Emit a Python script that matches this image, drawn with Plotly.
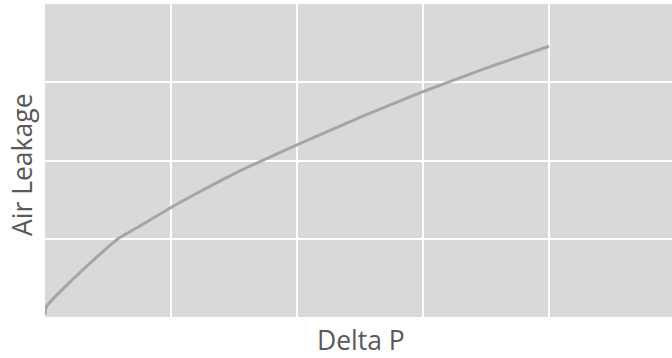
import plotly.graph_objects as go

delta_p = [0, 0.01, 0.2, 0.4, 0.58, 0.75, 1.0, 1.25, 1.5, 2.0, 2.5, 3.0, 3.5, 4.0]
air_leakage = [0.03, 0.13, 0.45, 0.75, 1.0, 1.16, 1.40, 1.62, 1.83, 2.2, 2.55, 2.88, 3.18, 3.46]

x_title = "Delta P"
y_title = "Air Leakage"

fig = go.Figure()
fig.add_trace(go.Scatter(
    x=delta_p, y=air_leakage, mode="lines",
    line=dict(color="#a5a5a5", width=3, shape="spline", smoothing=0.5),
    hoverinfo="skip", showlegend=False,
))

font_family = "Open Sans, Liberation Sans, sans-serif"
title_font = dict(family=font_family, size=26.5, color="#595959")

fig.update_layout(
    width=672, height=358,
    margin=dict(l=45, r=0, t=4, b=41, autoexpand=False),
    paper_bgcolor="white",
    plot_bgcolor="#d9d9d9",
    font=dict(family=font_family, color="#595959"),
    xaxis=dict(
        range=[0, 4.976], dtick=1, tick0=0,
        showgrid=True, gridcolor="white", gridwidth=1.5,
        zeroline=False, showticklabels=False, ticks="",
        showline=False, automargin=False, fixedrange=True,
    ),
    yaxis=dict(
        range=[0, 4], dtick=1, tick0=0,
        showgrid=True, gridcolor="white", gridwidth=1.5,
        zeroline=False, showticklabels=False, ticks="",
        showline=False, automargin=False, fixedrange=True,
    ),
    annotations=[
        dict(text=x_title, xref="paper", yref="paper",
             x=(361 - 45) / 627, y=-(340 - 317) / 313,
             xanchor="center", yanchor="middle", showarrow=False,
             height=32, borderpad=0, font=title_font),
        dict(text=y_title, xref="paper", yref="paper",
             x=(22 - 45) / 627, y=(317 - 165) / 313,
             xanchor="center", yanchor="middle", textangle=-90,
             showarrow=False, font=title_font),
    ],
)

fig.write_html("out.html", config={"displayModeBar": False},
               post_script="document.body.style.margin='0';")
